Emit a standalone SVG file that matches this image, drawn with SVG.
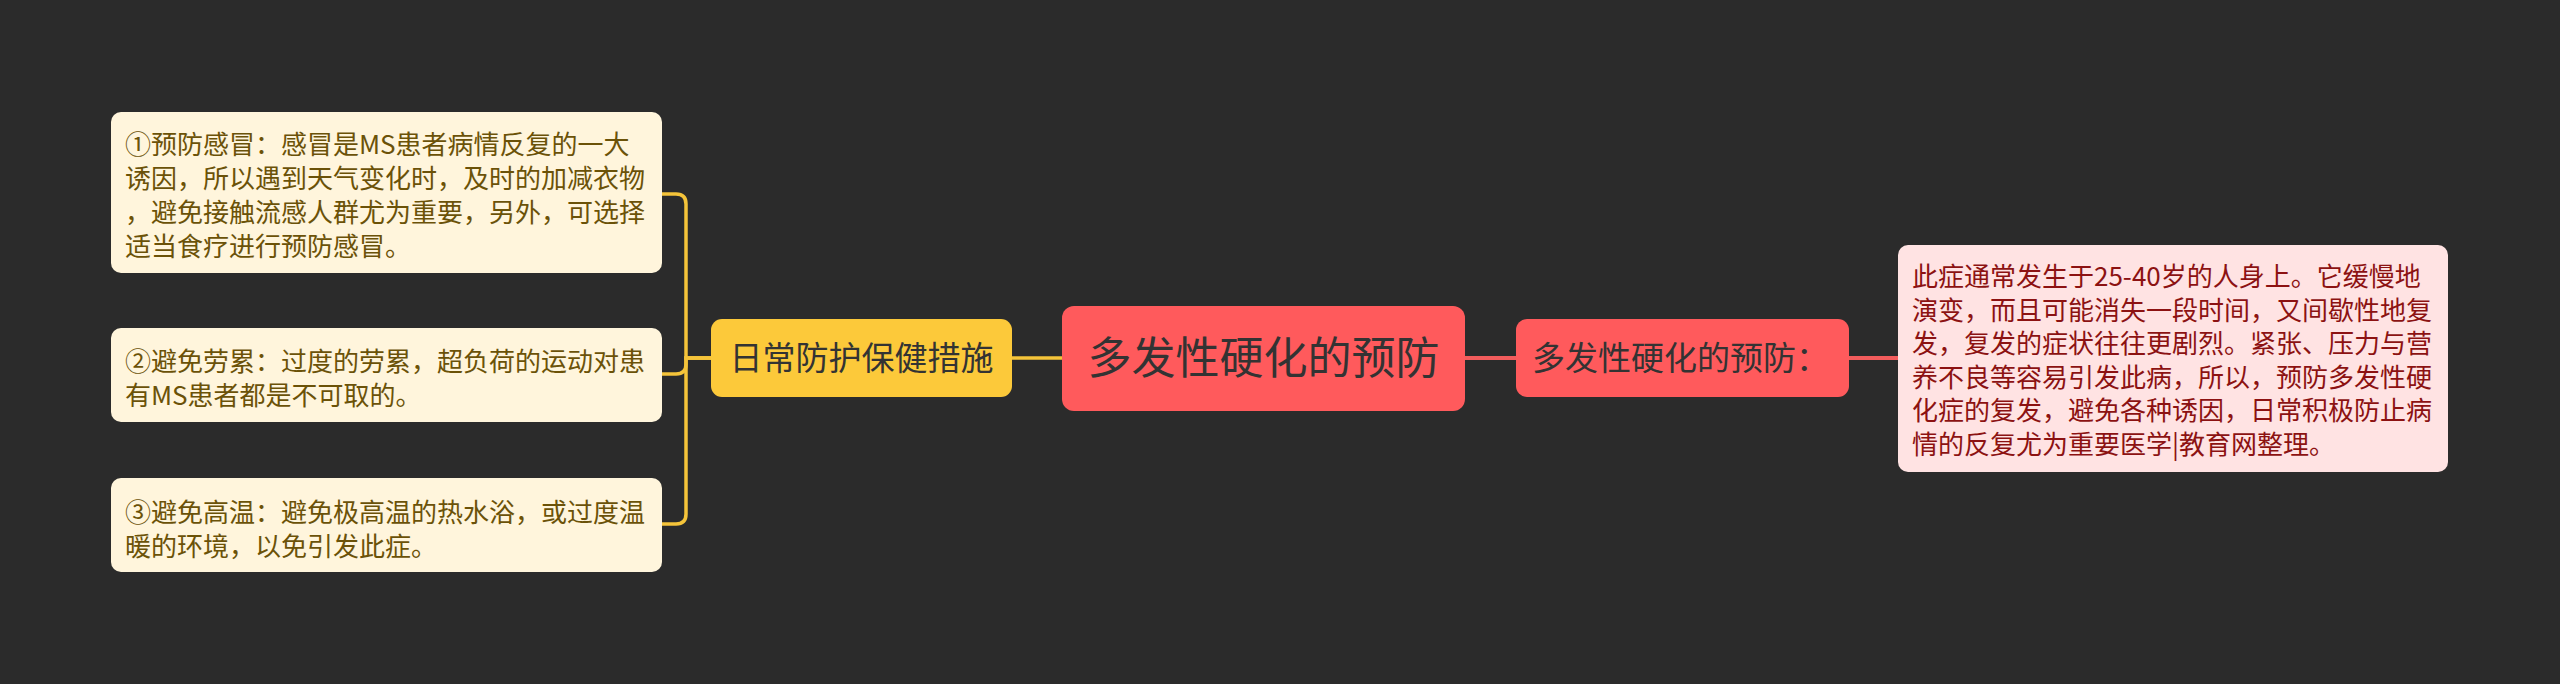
<svg xmlns="http://www.w3.org/2000/svg" width="2560" height="684" viewBox="0 0 2560 684">
<style>
.t{font-family:"Noto Sans CJK SC","Noto Sans",sans-serif}
.leaf{fill:#fff5dc}
.leaft{font-size:26px;fill:#6b5208}
.rleaf{fill:#ffe3e3}
.rleaft{font-size:26px;fill:#8c1212}
.yl{fill:none;stroke:#f5c43a;stroke-width:3.5}
.rl{fill:none;stroke:#f25c5c;stroke-width:4}
.dark{fill:#333333}
</style>
<rect width="2560" height="684" fill="#2b2b2b"/>
<g id="connectors">
<path class="yl" d="M711,358 H686 V204 Q686,194 676,194 H662"/>
<path class="yl" d="M711,358 H686 V364 Q686,374 676,374 H662"/>
<path class="yl" d="M711,358 H686 V514 Q686,524 676,524 H662"/>
<path class="yl" d="M1012,358 H1062"/>
<path class="rl" d="M1465,358 H1516"/>
<path class="rl" d="M1849,358 H1898"/>
</g>
<g id="center">
<rect x="1062" y="306" width="403" height="105" rx="12" fill="#ff5a5c"/>
<text class="t dark" x="1263.5" y="374" font-size="44" text-anchor="middle">多发性硬化的预防</text>
</g>
<g id="daily">
<rect x="711" y="319" width="301" height="78" rx="11" fill="#fcc93a"/>
<text class="t dark" x="861.5" y="370" font-size="33" text-anchor="middle">日常防护保健措施</text>
</g>
<g id="leaf1">
<rect class="leaf" x="111" y="112" width="551" height="161" rx="10"/>
<text class="t leaft"><tspan x="125" y="154">①预防感冒：感冒是MS患者病情反复的一大</tspan><tspan x="125" y="188">诱因，所以遇到天气变化时，及时的加减衣物</tspan><tspan x="125" y="222">，避免接触流感人群尤为重要，另外，可选择</tspan><tspan x="125" y="256">适当食疗进行预防感冒。</tspan></text>
</g>
<g id="leaf2">
<rect class="leaf" x="111" y="328" width="551" height="94" rx="10"/>
<text class="t leaft"><tspan x="125" y="371">②避免劳累：过度的劳累，超负荷的运动对患</tspan><tspan x="125" y="405">有MS患者都是不可取的。</tspan></text>
</g>
<g id="leaf3">
<rect class="leaf" x="111" y="478" width="551" height="94" rx="10"/>
<text class="t leaft"><tspan x="125" y="522">③避免高温：避免极高温的热水浴，或过度温</tspan><tspan x="125" y="556">暖的环境，以免引发此症。</tspan></text>
</g>
<g id="prevent">
<rect x="1516" y="319" width="333" height="78" rx="11" fill="#ff5a5c"/>
<text class="t dark" x="1532" y="370" font-size="33">多发性硬化的预防：</text>
</g>
<g id="detail">
<rect class="rleaf" x="1898" y="245" width="550" height="227" rx="10"/>
<text class="t rleaft"><tspan x="1912" y="286">此症通常发生于25-40岁的人身上。它缓慢地</tspan><tspan x="1912" y="319.6">演变，而且可能消失一段时间，又间歇性地复</tspan><tspan x="1912" y="353.2">发，复发的症状往往更剧烈。紧张、压力与营</tspan><tspan x="1912" y="386.8">养不良等容易引发此病，所以，预防多发性硬</tspan><tspan x="1912" y="420.4">化症的复发，避免各种诱因，日常积极防止病</tspan><tspan x="1912" y="454">情的反复尤为重要医学|教育网整理。</tspan></text>
</g>
</svg>
